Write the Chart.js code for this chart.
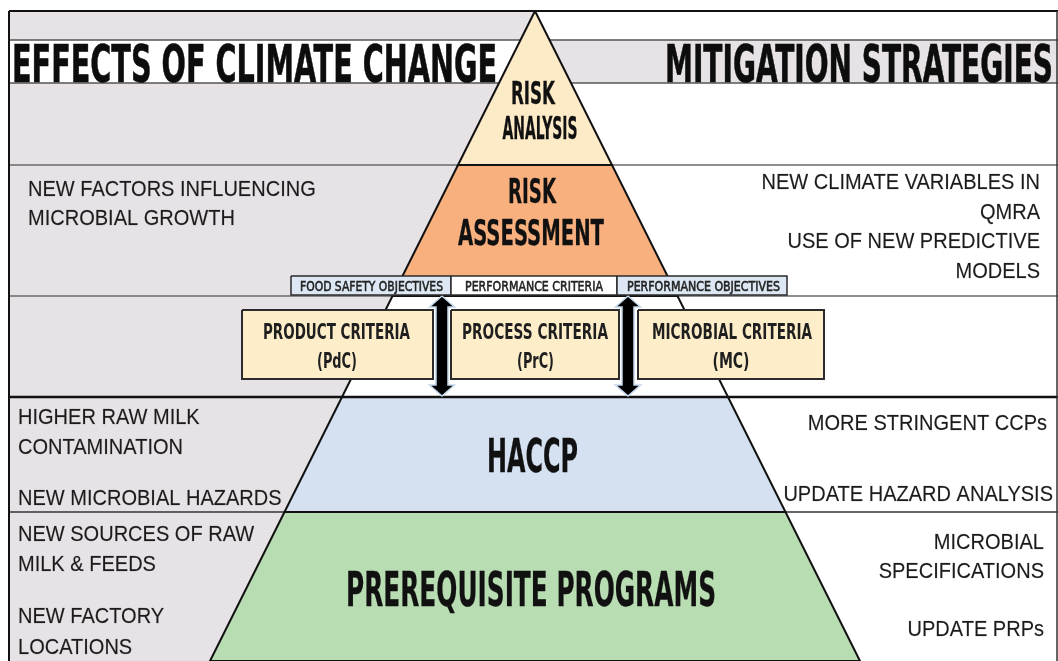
<!DOCTYPE html>
<html>
<head>
<meta charset="utf-8">
<script src="https://cdn.jsdelivr.net/npm/chart.js@4.4.1/dist/chart.umd.min.js"></script>
<style>
html,body{margin:0;padding:0;background:#fff;overflow:hidden}
canvas{display:block}
</style>
</head>
<body>
<canvas id="c" width="1058" height="661"></canvas>
<script>
// ---------------- DATA ----------------
const tierNames = [['RISK', 'ANALYSIS'], ['RISK', 'ASSESSMENT'], [], ['HACCP'], ['PREREQUISITE PROGRAMS']];
const tierTop = [11, 165, 296, 397, 512];
const tierBottom = [165, 296, 397, 512, 661];
const rowLines = [40, 83, 165, 296, 397, 512];

const headings = ['EFFECTS OF CLIMATE CHANGE', 'MITIGATION STRATEGIES'];

const objectiveLabels = ['FOOD SAFETY OBJECTIVES', 'PERFORMANCE CRITERIA', 'PERFORMANCE OBJECTIVES'];
const criteriaLabels = [['PRODUCT CRITERIA', '(PdC)'], ['PROCESS CRITERIA', '(PrC)'], ['MICROBIAL CRITERIA', '(MC)']];

const effectsOfClimateChange = [
  ['NEW FACTORS INFLUENCING', 'MICROBIAL GROWTH'],
  ['HIGHER RAW MILK', 'CONTAMINATION'],
  ['NEW MICROBIAL HAZARDS'],
  ['NEW SOURCES OF RAW', 'MILK & FEEDS'],
  ['NEW FACTORY', 'LOCATIONS']
];
const mitigationStrategies = [
  ['NEW CLIMATE VARIABLES IN', 'QMRA', 'USE OF NEW PREDICTIVE', 'MODELS'],
  ['MORE STRINGENT CCPs'],
  ['UPDATE HAZARD ANALYSIS'],
  ['MICROBIAL', 'SPECIFICATIONS'],
  ['UPDATE PRPs']
];

// ---------------- LAYOUT & STYLE ----------------
const W = 1058, H = 661;
const frame = { left: 9, top: 11, right: 1057, bottom: 661 };
const apex = { x: 535, y: 11 };
const spread = 0.5;
const leftX = y => apex.x - spread * (y - apex.y);
const rightX = y => apex.x + spread * (y - apex.y);

const tierColors = ['#fdeac7', '#f9b07f', '#ffffff', '#d5e1f1', '#b9ddb2'];
const greyBg = '#e6e2e5';
const rowLineStyle = [
  { w: 1.5, c: '#555' }, { w: 1.5, c: '#555' }, { w: 1.5, c: '#6a6a6a' },
  { w: 1.5, c: '#6a6a6a' }, { w: 2.5, c: '#111' }, { w: 1.5, c: '#333' }
];

const objBoxY = [276, 295];
const objBoxX = [[291, 451], [451, 617], [617, 787]];
const objBoxFill = ['#dce7f3', '#ffffff', '#dce7f3'];
const objTextLayout = [{ cx: 371.5, w: 143 }, { cx: 534, w: 138 }, { cx: 703.5, w: 153 }];

const critBoxY = [310, 379];
const critBoxX = [[242, 433], [451, 619], [638, 824]];
const critTextLayout = [
  [{ cx: 336.5, w: 147 }, { cx: 337, w: 40 }],
  [{ cx: 535, w: 146 }, { cx: 535.5, w: 37 }],
  [{ cx: 732, w: 160 }, { cx: 731, w: 37 }]
];

const arrowX = [442, 628];
const arrowY = [296, 396];

const headingLayout = [
  { x: 12, base: 82, cap: 37, w: 485, align: 'left' },
  { x: 1053, base: 82, cap: 37, w: 388, align: 'right' }
];
const tierTextLayout = [
  [{ cx: 533, base: 104, cap: 23, w: 44 }, { cx: 540, base: 139, cap: 23, w: 75 }],
  [{ cx: 532, base: 203, cap: 25, w: 48 }, { cx: 531, base: 245, cap: 26, w: 146 }],
  [],
  [{ cx: 532.5, base: 472, cap: 34, w: 91 }],
  [{ cx: 531, base: 606, cap: 35, w: 370 }]
];

const effectsLayout = [
  { x: 28, y: 190, gap: 29 }, { x: 18, y: 418, gap: 29.5 }, { x: 18, y: 499, gap: 30 },
  { x: 18, y: 535, gap: 29.5 }, { x: 18, y: 617, gap: 31 }
];
const mitigationLayout = [
  { x: 1040, y: 183, gap: 29.5 }, { x: 1047, y: 424, gap: 30 }, { x: 1053, y: 495, gap: 30 },
  { x: 1044, y: 543, gap: 29 }, { x: 1044, y: 630, gap: 30 }
];

const condensed = '"DejaVu Sans Condensed", "DejaVu Sans", sans-serif';
const bodyFont = '"Liberation Sans", Arial, sans-serif';

// ---------------- DATASETS ----------------
const datasets = [];
function poly(pts, fill, stroke, width, extra) {
  const closed = pts.concat([pts[0]]);
  datasets.push(Object.assign({
    data: closed.map(p => ({ x: p[0], y: p[1] })),
    showLine: true,
    fill: fill ? 'shape' : false,
    backgroundColor: fill || 'rgba(0,0,0,0)',
    borderColor: stroke || 'rgba(0,0,0,0)',
    borderWidth: width || 1,
    borderJoinStyle: 'miter',
    pointRadius: 0,
    pointHoverRadius: 0,
    tension: 0,
    clip: false
  }, extra || {}));
}
function seg(p1, p2, color, width) {
  datasets.push({
    data: [{ x: p1[0], y: p1[1] }, { x: p2[0], y: p2[1] }],
    showLine: true, fill: false, borderColor: color, borderWidth: width,
    pointRadius: 0, pointHoverRadius: 0, tension: 0, clip: false
  });
}

// backgrounds
const yTitleTop = rowLines[0], yTitleBot = rowLines[1];
poly([[frame.left, frame.top], [apex.x, frame.top], [leftX(yTitleTop), yTitleTop], [frame.left, yTitleTop]], greyBg);
poly([[rightX(yTitleTop), yTitleTop], [W, yTitleTop], [W, yTitleBot], [rightX(yTitleBot), yTitleBot]], greyBg);
poly([[frame.left, yTitleBot], [leftX(yTitleBot), yTitleBot], [leftX(H), H], [frame.left, H]], greyBg);

// row lines
rowLines.forEach((y, i) => seg([frame.left, y], [W, y], rowLineStyle[i].c, rowLineStyle[i].w));

// frame
seg([frame.left, frame.top], [W, frame.top], '#111', 2);
seg([frame.left, frame.top], [frame.left, H], '#111', 2);
seg([frame.right, frame.top], [frame.right, H], '#333', 1.5);

// pyramid tiers
tierNames.forEach((n, i) => {
  const t = tierTop[i], b = tierBottom[i];
  const pts = t <= apex.y
    ? [[apex.x, t], [rightX(b), b], [leftX(b), b]]
    : [[leftX(t), t], [rightX(t), t], [rightX(b), b], [leftX(b), b]];
  poly(pts, tierColors[i], '#111', 2);
});
seg([leftX(rowLines[4]), rowLines[4]], [rightX(rowLines[4]), rowLines[4]], '#111', 2.5);

// objective boxes
objectiveLabels.forEach((t, i) => {
  const [x1, x2] = objBoxX[i];
  poly([[x1, objBoxY[0]], [x2, objBoxY[0]], [x2, objBoxY[1]], [x1, objBoxY[1]]], objBoxFill[i], '#2b2b2b', 1.5);
});
// criteria boxes
criteriaLabels.forEach((t, i) => {
  const [x1, x2] = critBoxX[i];
  poly([[x1, critBoxY[0]], [x2, critBoxY[0]], [x2, critBoxY[1]], [x1, critBoxY[1]]], '#fdeec9', '#2b2b2b', 2);
});
// double arrows
arrowX.forEach(x => {
  const [y1, y2] = arrowY, hw = 12.5, sw = 6, hl = 11;
  poly([[x, y1], [x + hw, y1 + hl], [x + sw, y1 + hl], [x + sw, y2 - hl], [x + hw, y2 - hl], [x, y2],
        [x - hw, y2 - hl], [x - sw, y2 - hl], [x - sw, y1 + hl], [x - hw, y1 + hl]], '#000', '#c3d7ea', 1.5);
});

const N = datasets.length;
datasets.forEach((d, i) => { d.order = N - i; });

// ---------------- TEXT PLUGIN ----------------
function fitText(ctx, text, x, baseY, capH, width, align, weight, family, color, stroke) {
  const size = capH / 0.729;
  ctx.font = `${weight} ${size}px ${family}`;
  const w = ctx.measureText(text).width;
  const sx = width / w;
  ctx.save();
  ctx.translate(x, baseY);
  ctx.scale(sx, 1);
  ctx.textAlign = align;
  ctx.textBaseline = 'alphabetic';
  ctx.fillStyle = color;
  ctx.fillText(text, 0, 0);
  if (stroke) {
    ctx.strokeStyle = color;
    ctx.lineWidth = stroke;
    ctx.strokeText(text, 0, 0);
  }
  ctx.restore();
}
function bodyText(ctx, text, x, y, align) {
  ctx.save();
  ctx.font = `22px ${bodyFont}`;
  ctx.translate(x, y);
  ctx.scale(0.91, 1);
  ctx.textAlign = align;
  ctx.textBaseline = 'middle';
  ctx.fillStyle = '#1c1c1c';
  ctx.fillText(text, 0, 0);
  ctx.strokeStyle = 'rgba(28,28,28,0.35)';
  ctx.lineWidth = 0.4;
  ctx.strokeText(text, 0, 0);
  ctx.restore();
}

const textPlugin = {
  id: 'diagramText',
  afterDatasetsDraw(chart) {
    const ctx = chart.ctx;
    const sx = chart.scales.x, sy = chart.scales.y;
    const px = v => sx.getPixelForValue(v), py = v => sy.getPixelForValue(v);

    headings.forEach((t, i) => {
      const L = headingLayout[i];
      fitText(ctx, t, px(L.x), py(L.base), L.cap, L.w, L.align, 'bold', condensed, '#0d0d0d', 0.6);
    });
    tierNames.forEach((lines, i) => {
      lines.forEach((t, j) => {
        const L = tierTextLayout[i][j];
        fitText(ctx, t, px(L.cx), py(L.base), L.cap, L.w, 'center', 'bold', condensed, '#111', 0.3);
      });
    });
    objectiveLabels.forEach((t, i) => {
      const L = objTextLayout[i];
      fitText(ctx, t, px(L.cx), py(291), 10.5, L.w, 'center', 'normal', condensed, '#222', 0.55);
    });
    criteriaLabels.forEach((lines, i) => {
      fitText(ctx, lines[0], px(critTextLayout[i][0].cx), py(339), 16, critTextLayout[i][0].w, 'center', 'bold', condensed, '#1f1f1f');
      fitText(ctx, lines[1], px(critTextLayout[i][1].cx), py(368), 15, critTextLayout[i][1].w, 'center', 'bold', condensed, '#1f1f1f');
    });
    effectsOfClimateChange.forEach((lines, i) => {
      const L = effectsLayout[i];
      lines.forEach((t, j) => bodyText(ctx, t, px(L.x), py(L.y + j * L.gap), 'left'));
    });
    mitigationStrategies.forEach((lines, i) => {
      const L = mitigationLayout[i];
      lines.forEach((t, j) => bodyText(ctx, t, px(L.x), py(L.y + j * L.gap), 'right'));
    });
  }
};

new Chart(document.getElementById('c'), {
  type: 'scatter',
  data: { datasets },
  options: {
    responsive: false,
    animation: false,
    events: [],
    layout: { padding: 0 },
    plugins: { legend: { display: false }, tooltip: { enabled: false }, title: { display: false } },
    scales: {
      x: { type: 'linear', min: 0, max: W, display: false },
      y: { type: 'linear', min: 0, max: H, reverse: true, display: false }
    }
  },
  plugins: [textPlugin]
});
</script>
</body>
</html>
